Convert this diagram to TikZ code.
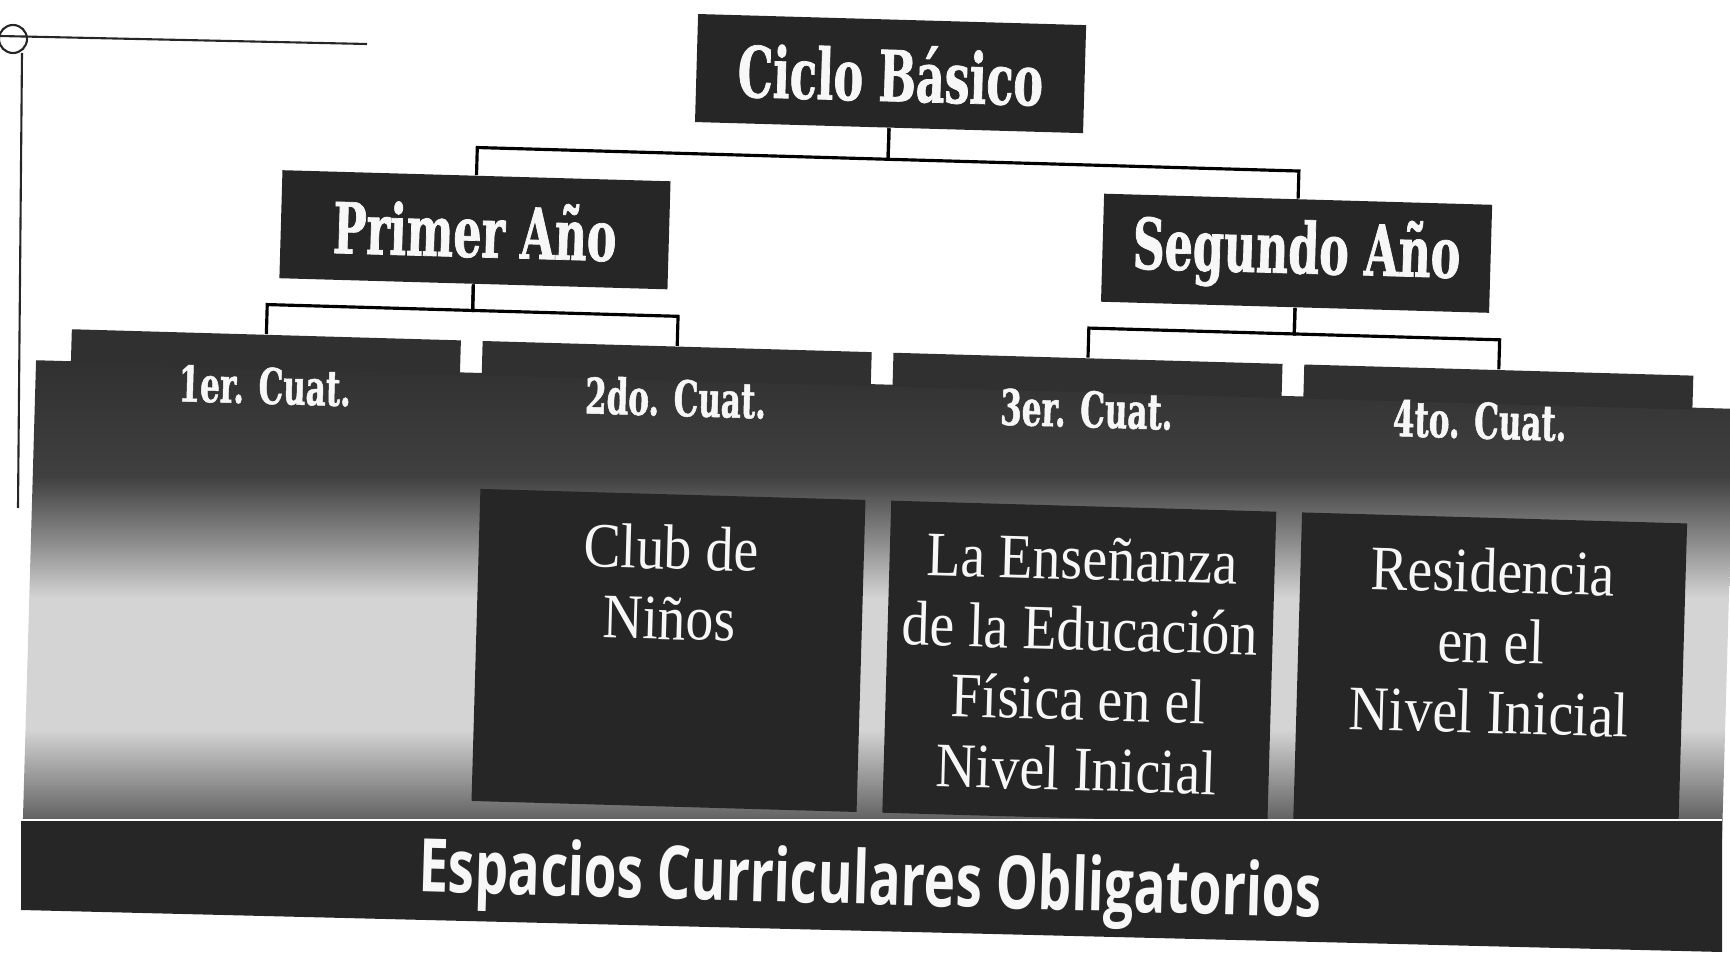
\documentclass[tikz,border=0pt]{standalone}
\usepackage{fontspec}
\usetikzlibrary{positioning}
\newfontfamily\slabfont{DejaVu Serif}[FakeStretch=0.63, FakeBold=1]
\newfontfamily\condserif{Liberation Serif}[FakeStretch=0.88]
\newfontfamily\bandsans{Open Sans}[FakeStretch=0.72]

\definecolor{boxdark}{gray}{0.15}
\definecolor{bodydark}{gray}{0.19}
\definecolor{fadeA}{gray}{0.25}
\definecolor{fadeB}{gray}{0.55}
\definecolor{fadeC}{gray}{0.83}
\definecolor{fadeD}{gray}{0.5}
\definecolor{fadeE}{gray}{0.27}
\definecolor{inkwhite}{gray}{0.97}

% body of the four terms: dark on top, light in the middle, dark again at the foot
\pgfdeclareverticalshading{bodyfade}{100bp}{color(0bp)=(fadeE); color(28.3bp)=(fadeE);
  color(32.6bp)=(fadeD); color(39.1bp)=(fadeC); color(51.9bp)=(fadeC);
  color(57.3bp)=(fadeB); color(63.7bp)=(fadeA); color(75bp)=(bodydark); color(100bp)=(bodydark)}

\tikzset{
  headbox/.style={fill=boxdark, text=inkwhite, minimum width=3.88cm, minimum height=1.08cm,
    inner sep=0pt, font=\slabfont\bfseries\fontsize{20}{22}\selectfont},
  tabbox/.style={fill=bodydark, minimum width=3.89cm, minimum height=0.34cm, inner sep=0pt},
  tablabel/.style={text=inkwhite, inner sep=0pt, font=\slabfont\bfseries\fontsize{14}{16}\selectfont},
  subjbox/.style={fill=boxdark, minimum width=3.85cm, minimum height=3.12cm, inner sep=0pt},
  subjtext/.style={text=inkwhite, align=center, inner sep=0pt, anchor=north,
    font=\condserif\fontsize{18}{20}\selectfont},
  bandtext/.style={text=inkwhite, inner sep=0pt, font=\bandsans\bfseries\fontsize{21}{24}\selectfont},
  link/.style={line width=0.9pt, black},
  cropmark/.style={line width=0.6pt, black!85}
}

\begin{document}
\begin{tikzpicture}[x=0.01cm, y=-0.01cm]
    \useasboundingbox (0,0) rectangle (1730,955);
    \clip (0,0) rectangle (1730,955);

    % crop mark of the scanned page
    \draw[cropmark] (0,36) -- (367,44);
    \draw[cropmark] (13,39) circle (14);
    \draw[cropmark] (22,53) -- (18,508);

    \begin{scope}[rotate around={-1.64:(865,478)}, transform shape]
        % body and tabs
        \shade[shading=bodyfade] (33,384) rectangle (1732,850);
        \foreach \i in {1,...,4}
            \node[tabbox] (t\i) at (68+194.5+411*\i-411, 369) {};

        \node[tablabel] (q1) at (262.5, 403) {1er. Cuat.};
        \node[tablabel] (q2) at (673.5, 403) {2do. Cuat.};
        \node[tablabel] (q3) at (1084.5, 403) {3er. Cuat.};
        \node[tablabel] (q4) at (1478, 403) {4to. Cuat.};

        % subjects
        \node[subjbox] (s2) at (673.5, 656) {};
        \node[subjbox] (s3) at (1084.5, 656) {};
        \node[subjbox] (s4) at (1495.5, 656) {};
        \node[subjtext] (s2t) at (673.5, 530) {Club de\\Niños};
        \node[subjtext] (s3t) at (1084.5, 530) {La Enseñanza\\de la Educación\\Física en el\\Nivel Inicial};
        \node[subjtext] (s4t) at (1495.5, 530) {Residencia\\en el\\Nivel Inicial};

        % tree
        \node[headbox] (cb) at (879, 73) {Ciclo Básico};
        \node[headbox] (pa) at (468, 241) {Primer Año};
        \node[headbox] (sa) at (1290, 241) {Segundo Año};

        \draw[link] (cb.south) -- ++(0,31) -| (pa.north);
        \draw[link] (cb.south) -- ++(0,31) -| (sa.north);
        \draw[link] (pa.south) -- ++(0,26) -| (t1.north);
        \draw[link] (pa.south) -- ++(0,26) -| (t2.north);
        \draw[link] (sa.south) -- ++(0,26) -| (t3.north);
        \draw[link] (sa.south) -- ++(0,26) -| (t4.north);
    \end{scope}

    % foot band
    \fill[boxdark] (21,820) -- (1722,820) -- (1722,952) -- (21,910) -- cycle;
    \draw[white, line width=0.7pt] (21,820) -- (1722,820);
    \begin{scope}[rotate around={-1.64:(865,478)}, transform shape]
        \node[bandtext] (ob) at (882, 885) {Espacios Curriculares Obligatorios};
    \end{scope}
\end{tikzpicture}
\end{document}
